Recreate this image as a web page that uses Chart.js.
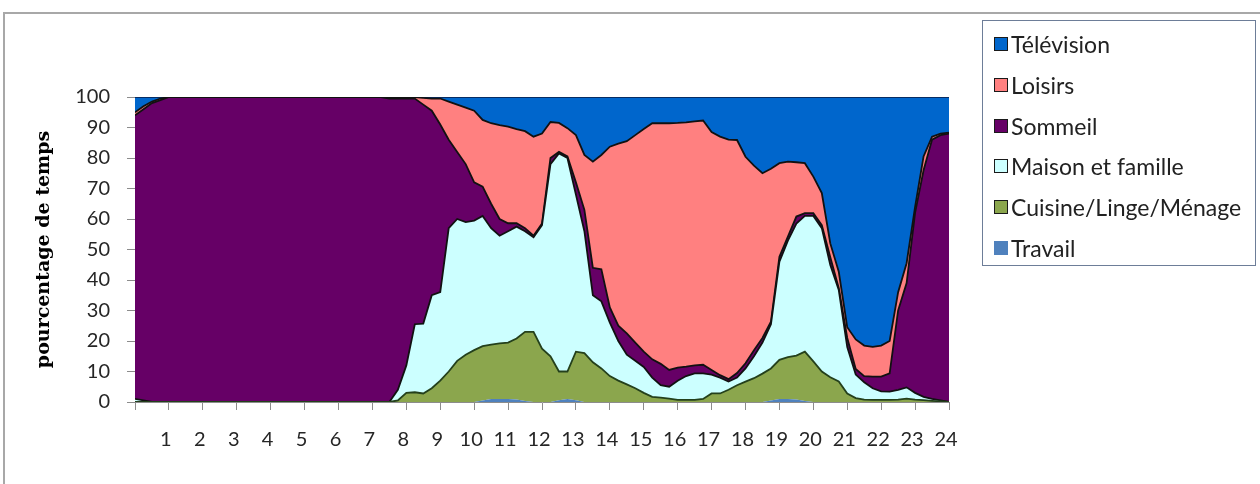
<!DOCTYPE html>
<html>
<head>
<meta charset="utf-8">
<script src="https://cdn.jsdelivr.net/npm/chart.js@4.4.1/dist/chart.umd.min.js"></script>
<style>
  html, body { margin: 0; padding: 0; background: #fff; }
  #wrap { position: relative; width: 1260px; height: 484px; overflow: hidden; }
  #frame { position: absolute; left: 3px; top: 12px; width: 1300px; height: 520px;
           border-top: 2px solid #a8a8a8; border-left: 2px solid #a8a8a8; }
  #chart { position: absolute; left: 0; top: 0; }
  #legend { position: absolute; left: 982px; top: 20px; width: 274px; height: 246px;
            border: 1px solid #6d7d98; box-sizing: border-box;
            font-family: Lato, "Open Sans", sans-serif; font-size: 23px; color: #222; }
  .item { position: absolute; left: 11px; height: 26px; display: flex; align-items: center; white-space: nowrap; }
  .sw { width: 12px; height: 12px; box-sizing: content-box; margin-right: 3px; }
</style>
</head>
<body>
<div id="wrap">
  <div id="frame"></div>
  <canvas id="chart" width="1260" height="484"></canvas>
  <div id="legend"></div>
</div>
<script>
// Heure de la journée (en heures) pour chaque relevé
const hours = [0, 0.25, 0.5, 0.75, 1, 2, 3, 4, 5, 6, 7, 7.25, 7.5, 7.75,
  8, 8.25, 8.5, 8.75, 9, 9.25, 9.5, 9.75, 10, 10.25, 10.5, 10.75,
  11, 11.25, 11.5, 11.75, 12, 12.25, 12.5, 12.75, 13, 13.25, 13.5, 13.75,
  14, 14.25, 14.5, 14.75, 15, 15.25, 15.5, 15.75, 16, 16.25, 16.5, 16.75,
  17, 17.25, 17.5, 17.75, 18, 18.25, 18.5, 18.75, 19, 19.25, 19.5, 19.75,
  20, 20.25, 20.5, 20.75, 21, 21.25, 21.5, 21.75, 22, 22.25, 22.5, 22.75,
  23, 23.25, 23.5, 23.75, 24];

// Part du temps (%) consacrée à chaque activité
const travail = [0, 0, 0, 0, 0, 0, 0, 0, 0, 0, 0, 0, 0, 0,
  0, 0, 0, 0, 0, 0, 0, 0, 0, 0.5, 1, 1,
  1, 0.8, 0.3, 0, 0, 0, 0.6, 1, 0.6, 0, 0, 0,
  0, 0, 0, 0, 0, 0, 0, 0, 0, 0, 0, 0,
  0, 0, 0, 0, 0, 0, 0, 0.5, 1, 1, 0.8, 0.3,
  0, 0, 0, 0, 0, 0, 0, 0, 0, 0, 0, 0,
  0, 0, 0, 0, 0];

const cuisine = [0, 0, 0, 0, 0, 0, 0, 0, 0, 0, 0, 0, 0, 0.5,
  3, 3.2, 2.8, 4.5, 7, 10, 13.5, 15.5, 17, 17.8, 17.8, 18.2,
  18.5, 20, 22.7, 23, 17.5, 15, 9.4, 9, 15.9, 16, 13, 11,
  8.5, 7, 5.8, 4.5, 3, 1.7, 1.4, 1.1, 0.7, 0.7, 0.7, 1,
  2.8, 2.8, 4, 5.5, 6.7, 7.8, 9.3, 10.5, 12.8, 13.7, 14.4, 16.2,
  13.3, 10, 8.1, 6.7, 2.8, 1.3, 0.8, 0.7, 0.7, 0.7, 0.8, 1.1,
  0.8, 0.6, 0.4, 0.2, 0];

const maison = [1, 0.5, 0, 0, 0, 0, 0, 0, 0, 0, 0, 0, 0, 3.5,
  9, 22.3, 22.9, 30.5, 29, 47, 46.5, 43.5, 42.5, 42.7, 38.2, 35.3,
  36.5, 36.7, 33, 31, 40.5, 63, 71.5, 70, 51.5, 40, 22, 22,
  17.5, 13, 9.7, 9, 8.5, 6.3, 4.1, 3.9, 6.3, 7.8, 8.7, 8.4,
  6.2, 5.2, 2.7, 2.5, 4.3, 7.2, 10.2, 14.5, 32.2, 38.2, 43.3, 44.5,
  47.7, 47, 36.8, 30, 15.2, 7.7, 5.7, 3.8, 2.8, 2.7, 3.2, 3.7,
  2.2, 1.1, 0.6, 0.3, 0];

const sommeil = [93, 95.5, 98, 99, 100, 100, 100, 100, 100, 100, 100, 100, 99.5, 95.5,
  87.5, 74, 71.8, 60.5, 55, 29, 22, 19, 12.5, 9.6, 8, 5.5,
  2.6, 1.1, 1, 0.5, 0.5, 2, 0.5, 0.5, 4, 7, 9, 10.5,
  5, 5, 7, 6, 5, 6, 7, 5.5, 4.3, 3.1, 2.6, 2.8,
  1.5, 0.8, 0.8, 1.5, 1.7, 2, 1.5, 0.8, 1.6, 1.3, 2.3, 0.9,
  0.9, 1, 2.6, 0.6, 3, 1.8, 2, 3.8, 4.8, 6, 26, 34.2,
  59, 74.3, 85, 87, 88];

const loisirs = [1, 1, 0.5, 0.5, 0, 0, 0, 0, 0, 0, 0, 0, 0.5, 0.5,
  0.5, 0.5, 2.2, 4, 8.5, 12.5, 15.5, 18.5, 23.5, 21.9, 26.4, 30.8,
  31.7, 30.9, 31.8, 32.5, 29.5, 11.8, 9.5, 9.3, 15.5, 18, 34.8, 37.5,
  52.7, 59.7, 63, 68, 73, 77.4, 78.9, 80.9, 80.2, 80.1, 80, 80.1,
  78, 78.2, 78.5, 76.4, 67.7, 60.5, 54, 50.2, 30.7, 24.6, 17.8, 16.4,
  12, 10.5, 4.5, 5.4, 3.5, 9.7, 10, 9.8, 10.2, 10.6, 6, 6.5,
  2, 4.5, 1, 0.5, 0.3];

const television = [5, 3, 1.5, 0.5, 0, 0, 0, 0, 0, 0, 0, 0, 0, 0,
  0, 0, 0.3, 0.5, 0.5, 1.5, 2.5, 3.5, 4.5, 7.5, 8.6, 9.2,
  9.7, 10.5, 11.2, 13, 12, 8.2, 8.5, 10.2, 12.5, 19, 21.2, 19,
  16.3, 15.3, 14.5, 12.5, 10.5, 8.6, 8.6, 8.6, 8.5, 8.3, 8, 7.7,
  11.5, 13, 14, 14.1, 19.6, 22.5, 25, 23.5, 21.7, 21.2, 21.4, 21.7,
  26.1, 31.5, 48, 57.3, 75.5, 79.5, 81.5, 81.9, 81.5, 80, 64, 54.5,
  36, 19.5, 13, 12, 11.7];

// Libellés de l'axe horizontal (heures)
const hourLabels = ['1', '2', '3', '4', '5', '6', '7', '8', '9', '10', '11', '12',
  '13', '14', '15', '16', '17', '18', '19', '20', '21', '22', '23', '24'];

const yTicks = [0, 10, 20, 30, 40, 50, 60, 70, 80, 90, 100];

// Séries empilées, de bas en haut
const series = [
  { label: 'Travail', values: travail, color: '#4f81bd', line: 'rgba(0,0,0,0)', lw: 0 },
  { label: 'Cuisine/Linge/Ménage', values: cuisine, color: '#8ba64d', line: '#24401c', lw: 1.8 },
  { label: 'Maison et famille', values: maison, color: '#ccffff', line: '#111111', lw: 1.8 },
  { label: 'Sommeil', values: sommeil, color: '#660066', line: '#111111', lw: 1.8 },
  { label: 'Loisirs', values: loisirs, color: '#ff8080', line: '#111111', lw: 1.8 },
  { label: 'Télévision', values: television, color: '#0066cc', line: '#0a1a40', lw: 1.5 }
];

const datasets = series.map((s, i) => ({
  label: s.label,
  data: hours.map((h, k) => ({ x: h, y: s.values[k] })),
  backgroundColor: s.color,
  borderColor: s.line,
  borderWidth: s.lw,
  pointRadius: 0,
  tension: 0,
  fill: i === 0 ? 'origin' : '-1'
}));

const font = { family: 'Lato, "Open Sans", sans-serif', size: 20 };

new Chart(document.getElementById('chart'), {
  type: 'line',
  data: { datasets },
  options: {
    responsive: false,
    animation: false,
    devicePixelRatio: 1,
    layout: { padding: { left: 0, top: 97, right: 311, bottom: 0 } },
    plugins: { legend: { display: false }, tooltip: { enabled: false } },
    scales: {
      x: {
        type: 'linear', min: 0, max: 24,
        afterFit: s => { s.height = 82; },
        afterBuildTicks: s => { s.ticks = [{ value: 0 }].concat(hourLabels.map((_, i) => ({ value: i + 1 }))); },
        ticks: {
          autoSkip: false, maxRotation: 0, padding: 18, labelOffset: -3,
          color: '#262626', font,
          callback: v => (v >= 1 ? hourLabels[v - 1] : '')
        },
        grid: { drawOnChartArea: false, drawTicks: true, tickLength: 8, color: '#8c8c8c' },
        border: { display: true, color: '#8c8c8c' }
      },
      y: {
        stacked: true, min: 0, max: 100,
        afterFit: s => { s.width = 135; },
        afterBuildTicks: s => { s.ticks = yTicks.map(v => ({ value: v })); },
        ticks: { padding: 17, color: '#262626', font },
        grid: { drawOnChartArea: false, drawTicks: true, tickLength: 8, color: '#8c8c8c' },
        border: { display: true, color: '#8c8c8c' },
        title: {
          display: true, text: 'pourcentage de temps', color: '#000',
          font: { family: '"DejaVu Serif", serif', weight: 'bold', size: 19 },
          padding: { top: 33, bottom: 0 }
        }
      }
    }
  }
});

// Légende encadrée, dans l'ordre inverse de l'empilement
const legend = document.getElementById('legend');
series.slice().reverse().forEach((s, i) => {
  const item = document.createElement('div');
  item.className = 'item';
  item.style.top = (10 + i * 40.8) + 'px';
  const sw = document.createElement('span');
  sw.className = 'sw';
  sw.style.background = s.color;
  sw.style.border = s.lw ? '1.5px solid #1a1a1a' : '1.5px solid ' + s.color;
  item.appendChild(sw);
  item.appendChild(document.createTextNode(s.label));
  legend.appendChild(item);
});
</script>
</body>
</html>
